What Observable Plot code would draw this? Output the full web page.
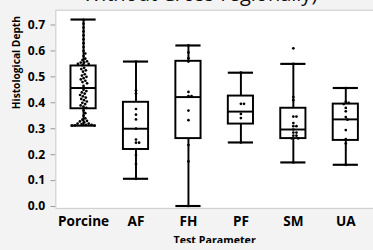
<!DOCTYPE html>
<html>
<head>
<meta charset="utf-8">
<script src="https://cdn.jsdelivr.net/npm/d3@7"></script>
<script src="https://cdn.jsdelivr.net/npm/@observablehq/plot@0.6"></script>
<style>
  html, body { margin: 0; padding: 0; background: #f3f3f3; overflow: hidden; width: 373px; height: 250px; }
  #wrap { position: relative; width: 373px; height: 250px; overflow: hidden; }
  #title { position: absolute; left: 0; width: 400px; top: -16px; text-align: center; font: 20px/20px "Open Sans", sans-serif; color: #111; white-space: nowrap; z-index: 2; }
  #chart { position: absolute; left: 0; top: 0; }
  #chart svg { font-family: "Open Sans", sans-serif; }
</style>
</head>
<body>
<div id="wrap">
  <div id="chart"></div>
  <div id="title">Without Cross-regionally)</div>
</div>
<script>
// ---- data ----
const categories = ["Porcine", "AF", "FH", "PF", "SM", "UA"];

// box statistics per category (same order as categories)
const boxMin    = [0.312, 0.107, 0.002, 0.247, 0.170, 0.161];
const boxQ1     = [0.377, 0.220, 0.262, 0.318, 0.262, 0.255];
const boxMedian = [0.457, 0.300, 0.422, 0.366, 0.297, 0.336];
const boxQ3     = [0.542, 0.402, 0.560, 0.426, 0.379, 0.395];
const boxMax    = [0.721, 0.559, 0.621, 0.516, 0.550, 0.457];

// individual observations
const porcineValues = [
  0.72, 0.705, 0.69, 0.675, 0.66, 0.645, 0.63, 0.615, 0.60, 0.59, 0.58, 0.57, 0.565, 0.56, 0.555, 0.555, 0.55, 0.55, 0.545,
  0.535, 0.53, 0.525, 0.52, 0.51, 0.505, 0.50, 0.495, 0.49, 0.485, 0.48, 0.475, 0.465,
  0.45, 0.445, 0.44, 0.435, 0.43, 0.425, 0.42, 0.415, 0.41, 0.405, 0.40, 0.395, 0.39, 0.385, 0.38,
  0.37, 0.36, 0.35, 0.34, 0.335, 0.33, 0.328, 0.325, 0.32, 0.32, 0.318, 0.315, 0.315, 0.313, 0.312, 0.312
];
const afValues = [0.559, 0.448, 0.436, 0.376, 0.354, 0.336, 0.300, 0.258, 0.246, 0.246, 0.199, 0.164, 0.107];
const fhValues = [0.621, 0.594, 0.572, 0.559, 0.442, 0.426, 0.426, 0.370, 0.333, 0.237, 0.174, 0.002];
const pfValues = [0.516, 0.396, 0.396, 0.357, 0.341, 0.247];
const smValues = [0.610, 0.550, 0.422, 0.410, 0.347, 0.347, 0.322, 0.310, 0.310, 0.297, 0.285, 0.285, 0.273, 0.273, 0.263, 0.263, 0.170];
const uaValues = [0.457, 0.404, 0.400, 0.395, 0.380, 0.367, 0.345, 0.335, 0.295, 0.260, 0.243, 0.161];

const yTicks = [0, 0.1, 0.2, 0.3, 0.4, 0.5, 0.6, 0.7];

// ---- layout ----
const W = 384, H = 250;
const mL = 57, mR = 0, mT = 10, mB = 36;
const yDomain = [-0.007, 0.757];
const xDomain = [-0.528, 5.528];           // category index units
const boxHalf = 0.24;                      // half box width, in category units
const dotR = 1.4;

// ---- tables ----
const boxes = categories.map((c, i) => ({
  i, cat: c, min: boxMin[i], q1: boxQ1[i], median: boxMedian[i], q3: boxQ3[i], max: boxMax[i]
}));
const valueLists = [porcineValues, afValues, fhValues, pfValues, smValues, uaValues];

// scales (the library's own) to lay out the swarm without overlaps
const yS = Plot.scale({ y: { domain: yDomain, range: [H - mB, mT] } });
const xS = Plot.scale({ x: { domain: xDomain, range: [mL, W - mR] } });
const pxPerUnit = xS.apply(1) - xS.apply(0);

function swarm(values, i) {
  const placed = [];
  const minD = 2 * dotR + 0.4;
  const out = [];
  for (const v of values) {
    const py = yS.apply(v);
    const cands = [0];
    for (const p of placed) {
      const dy = Math.abs(p.py - py);
      if (dy < minD) {
        const dx = Math.sqrt(minD * minD - dy * dy);
        cands.push(p.px + dx, p.px - dx);
      }
    }
    cands.sort((a, b) => Math.abs(a) - Math.abs(b) || b - a);
    let chosen = 0;
    for (const c of cands) {
      let ok = true;
      for (const p of placed) {
        const ddx = p.px - c, ddy = p.py - py;
        if (ddx * ddx + ddy * ddy < minD * minD - 1e-6) { ok = false; break; }
      }
      if (ok) { chosen = c; break; }
    }
    placed.push({ px: chosen, py });
    out.push({ cat: categories[i], v, x: i + chosen / pxPerUnit });
  }
  return out;
}
const points = valueLists.flatMap((vals, i) => swarm(vals, i));

const plot = Plot.plot({
  width: W, height: H,
  marginLeft: mL, marginRight: mR, marginTop: mT, marginBottom: mB,
  style: { fontFamily: "Open Sans, sans-serif", fontSize: "13px", fontWeight: "bold", background: "transparent", color: "black" },
  x: { domain: xDomain, ticks: categories.map((c, i) => i), tickFormat: i => categories[i], label: null, tickSize: 0, tickPadding: 8 },
  y: { domain: yDomain, ticks: yTicks, tickFormat: d3.format(".1f"), label: null, tickSize: 5, tickPadding: 6 },
  marks: [
    Plot.frame({ fill: "white", stroke: "#c8c8c8" }),
    Plot.ruleX(boxes, { x: "i", y1: "min", y2: "q1", stroke: "black", strokeWidth: 2 }),
    Plot.ruleX(boxes, { x: "i", y1: "q3", y2: "max", stroke: "black", strokeWidth: 2 }),
    Plot.ruleY(boxes, { y: "min", x1: d => d.i - boxHalf, x2: d => d.i + boxHalf, stroke: "black", strokeWidth: 2.2 }),
    Plot.ruleY(boxes, { y: "max", x1: d => d.i - boxHalf, x2: d => d.i + boxHalf, stroke: "black", strokeWidth: 2.2 }),
    Plot.rect(boxes, { x1: d => d.i - boxHalf, x2: d => d.i + boxHalf, y1: "q1", y2: "q3", fill: "white", stroke: "black", strokeWidth: 2 }),
    Plot.ruleY(boxes, { y: "median", x1: d => d.i - boxHalf, x2: d => d.i + boxHalf, stroke: "black", strokeWidth: 2 }),
    Plot.dot(points, { x: "x", y: "v", r: dotR, fill: "black", stroke: "none" }),
    Plot.text(["Histological Depth"], { frameAnchor: "left", rotate: -90, dx: -40, fontSize: 10.5, fontWeight: "bold", fill: "black" }),
    Plot.text(["Test Parameter"], { frameAnchor: "bottom", lineAnchor: "top", dy: 29, fontSize: 11, fontWeight: "bold", fill: "black" })
  ]
});
document.getElementById("chart").appendChild(plot);

// axis styling
d3.select(plot).selectAll('[aria-label="x-axis tick label"], [aria-label="x-axis"] text').style("font-size", "14px");
d3.select(plot).selectAll('[aria-label="y-axis tick"], [aria-label="y-axis"] line').attr("stroke", "#999");
d3.select(plot).selectAll('[aria-label="y-axis tick label"], [aria-label="y-axis"] text').style("font-size", "12.5px");
</script>
</body>
</html>
